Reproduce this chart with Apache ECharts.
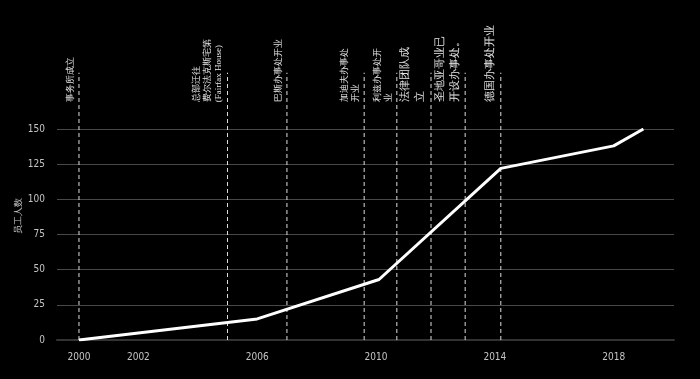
<!DOCTYPE html>
<html>
<head>
<meta charset="utf-8">
<script src="https://cdn.jsdelivr.net/npm/echarts@6/dist/echarts.min.js"></script>
<style>
html,body{margin:0;padding:0;background:#000;}
#chart{width:700px;height:379px;}
</style>
</head>
<body>
<div id="chart"></div>
<script>
// Data
var years = [2000, 2006, 2010.1, 2014.2, 2018, 2019];
var staff = [0, 15, 43, 122, 138, 150];
var eventYears = [2000, 2005, 2007, 2009.6, 2010.7, 2011.85, 2013, 2014.2];
var eventLabels = [
  '事务所成立',
  '总部迁往\n费尔法克斯宅第\n(Fairfax House)',
  '巴斯办事处开业',
  '加迪夫办事处\n开业',
  '利兹办事处开\n业',
  '法律团队成\n立',
  '圣地亚哥业已\n开设办事处。',
  '德国办事处开业'
];
var xTickLabels = [2000, 2002, 2006, 2010, 2014, 2018];
var yTicks = [0, 25, 50, 75, 100, 125, 150];

// style config
var LINE_TOP = 190;
var TEXT_START = 169;
var bigLabels = [5, 6, 7];

var chart = echarts.init(document.getElementById('chart'));
chart.setOption({
  backgroundColor: '#000',
  animation: false,
  grid: {left: 57, right: 26, top: 129, bottom: 39},
  xAxis: {
    type: 'value',
    min: 1999.26,
    max: 2020.03,
    splitLine: {show: false},
    axisTick: {show: false},
    axisLine: {show: true, lineStyle: {color: '#333', width: 2}},
    axisLabel: {
      customValues: xTickLabels,
      color: '#c4c4c4',
      fontSize: 10,
      margin: 12,
      fontFamily: 'DejaVu Sans Condensed, sans-serif',
      formatter: function (v) { return String(Math.round(v)); }
    }
  },
  yAxis: {
    type: 'value',
    min: yTicks[0],
    max: yTicks[yTicks.length - 1],
    interval: 25,
    name: '员工人数',
    nameLocation: 'middle',
    nameGap: 34,
    nameMoveOverlap: false,
    nameTextStyle: {color: '#c4c4c4', fontSize: 9, fontFamily: 'serif', padding: [0, 0, 0, 37]},
    axisLine: {show: false},
    axisTick: {show: false},
    splitLine: {lineStyle: {color: '#484848', width: 1}},
    axisLabel: {color: '#c4c4c4', fontSize: 10, margin: 12, fontFamily: 'DejaVu Sans Condensed, sans-serif'}
  },
  series: [
    {
      type: 'custom',
      clip: false,
      z: 1,
      data: eventYears.map(function (y, i) { return [y, i]; }),
      renderItem: function (params, api) {
        var x = api.value(0);
        var idx = api.value(1);
        var bottom = api.coord([x, 0]);
        var top = api.coord([x, LINE_TOP]);
        var ts = api.coord([x, TEXT_START]);
        var big = bigLabels.indexOf(idx) >= 0;
        return {
          type: 'group',
          children: [
            {
              type: 'line',
              shape: {x1: bottom[0], y1: bottom[1], x2: top[0], y2: top[1]},
              style: {stroke: '#ddd', lineWidth: 1, lineDash: [4, 3]}
            },
            {
              type: 'text',
              x: bottom[0] - 3,
              y: ts[1],
              rotation: Math.PI / 2,
              style: {
                text: eventLabels[idx],
                fill: '#e6e6e6',
                fontSize: big ? 11 : 9,
                fontFamily: 'serif',
                lineHeight: big ? 15 : 11,
                align: 'left',
                verticalAlign: 'bottom'
              }
            }
          ]
        };
      }
    },
    {
      type: 'line',
      z: 3,
      data: years.map(function (y, i) { return [y, staff[i]]; }),
      symbol: 'none',
      lineStyle: {color: '#fff', width: 3}
    }
  ]
});
</script>
</body>
</html>
